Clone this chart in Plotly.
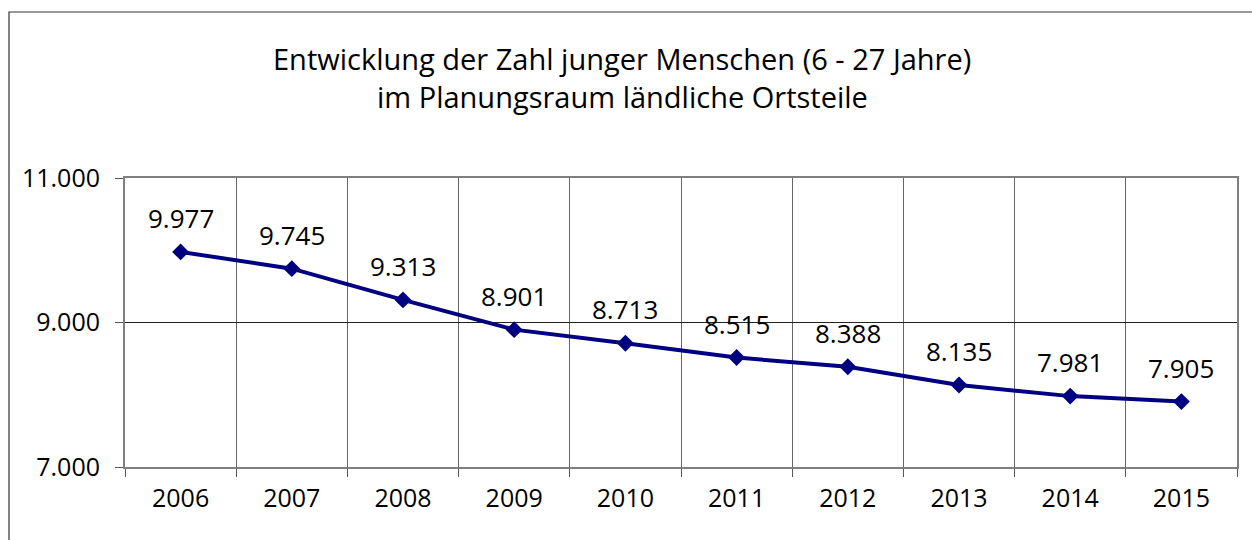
import plotly.graph_objects as go

years = [2006, 2007, 2008, 2009, 2010, 2011, 2012, 2013, 2014, 2015]
values = [9977, 9745, 9313, 8901, 8713, 8515, 8388, 8135, 7981, 7905]
labels = ["9.977", "9.745", "9.313", "8.901", "8.713", "8.515", "8.388", "8.135", "7.981", "7.905"]
y_ticks = [7000, 9000, 11000]
y_tick_text = ["7.000", "9.000", "11.000"]
title_lines = ["Entwicklung der Zahl junger Menschen (6 - 27 Jahre)",
               "im Planungsraum ländliche Ortsteile"]

FONT = "Open Sans"

fig = go.Figure()
fig.add_trace(go.Scatter(
    x=years, y=values, mode="lines+markers",
    line=dict(color="#000080", width=4),
    marker=dict(symbol="diamond", size=13, color="#000080"),
    hoverinfo="skip", showlegend=False,
))

for x, v, t in zip(years, values, labels):
    fig.add_annotation(x=x, y=v, text=t, showarrow=False, yshift=34,
                       font=dict(family=FONT, size=26, color="black"))

W, H = 1252, 540
L, R, T, B = 125, 15, 178, 73
pw, ph = W - L - R, H - T - B

for line, ypix in zip(title_lines, [58, 97]):
    fig.add_annotation(xref="paper", yref="paper", x=(622 - L) / pw,
                       y=(H - B - ypix) / ph, text=line, showarrow=False,
                       xanchor="center", yanchor="middle",
                       font=dict(family=FONT, size=29, color="black"))

fig.add_shape(type="rect", xref="paper", yref="paper",
              x0=(9 - L) / pw, x1=1.2, y0=-0.5, y1=(H - B - 12) / ph,
              line=dict(color="#333333", width=1.2), layer="below")

fig.update_layout(
    width=W, height=H,
    margin=dict(l=L, r=R, t=T, b=B),
    paper_bgcolor="white", plot_bgcolor="white",
    font=dict(family=FONT, color="black"),
)

fig.update_xaxes(
    range=[2005.5, 2015.5],
    tickvals=years, ticktext=[str(y) for y in years],
    tickfont=dict(family=FONT, size=25, color="black"),
    ticks="", showgrid=False, zeroline=False, ticklabelstandoff=8,
    showline=True, linecolor="#7f7f7f", linewidth=2, mirror=True,
    minor=dict(tickvals=[y + 0.5 for y in [2005] + years], ticks="outside",
               ticklen=8, tickcolor="#555555", showgrid=True,
               gridcolor="#666666", gridwidth=1),
)
fig.update_yaxes(
    range=[7000, 11000],
    tickvals=y_ticks, ticktext=y_tick_text,
    tickfont=dict(family=FONT, size=25, color="black"),
    ticks="outside", ticklen=8, tickcolor="#555555", ticklabelstandoff=10,
    showgrid=True, gridcolor="#222222", gridwidth=1, zeroline=False,
    showline=True, linecolor="#7f7f7f", linewidth=2, mirror=True,
)

fig.write_html("out.html", config={"displayModeBar": False},
               post_script="document.body.style.margin='0';")
